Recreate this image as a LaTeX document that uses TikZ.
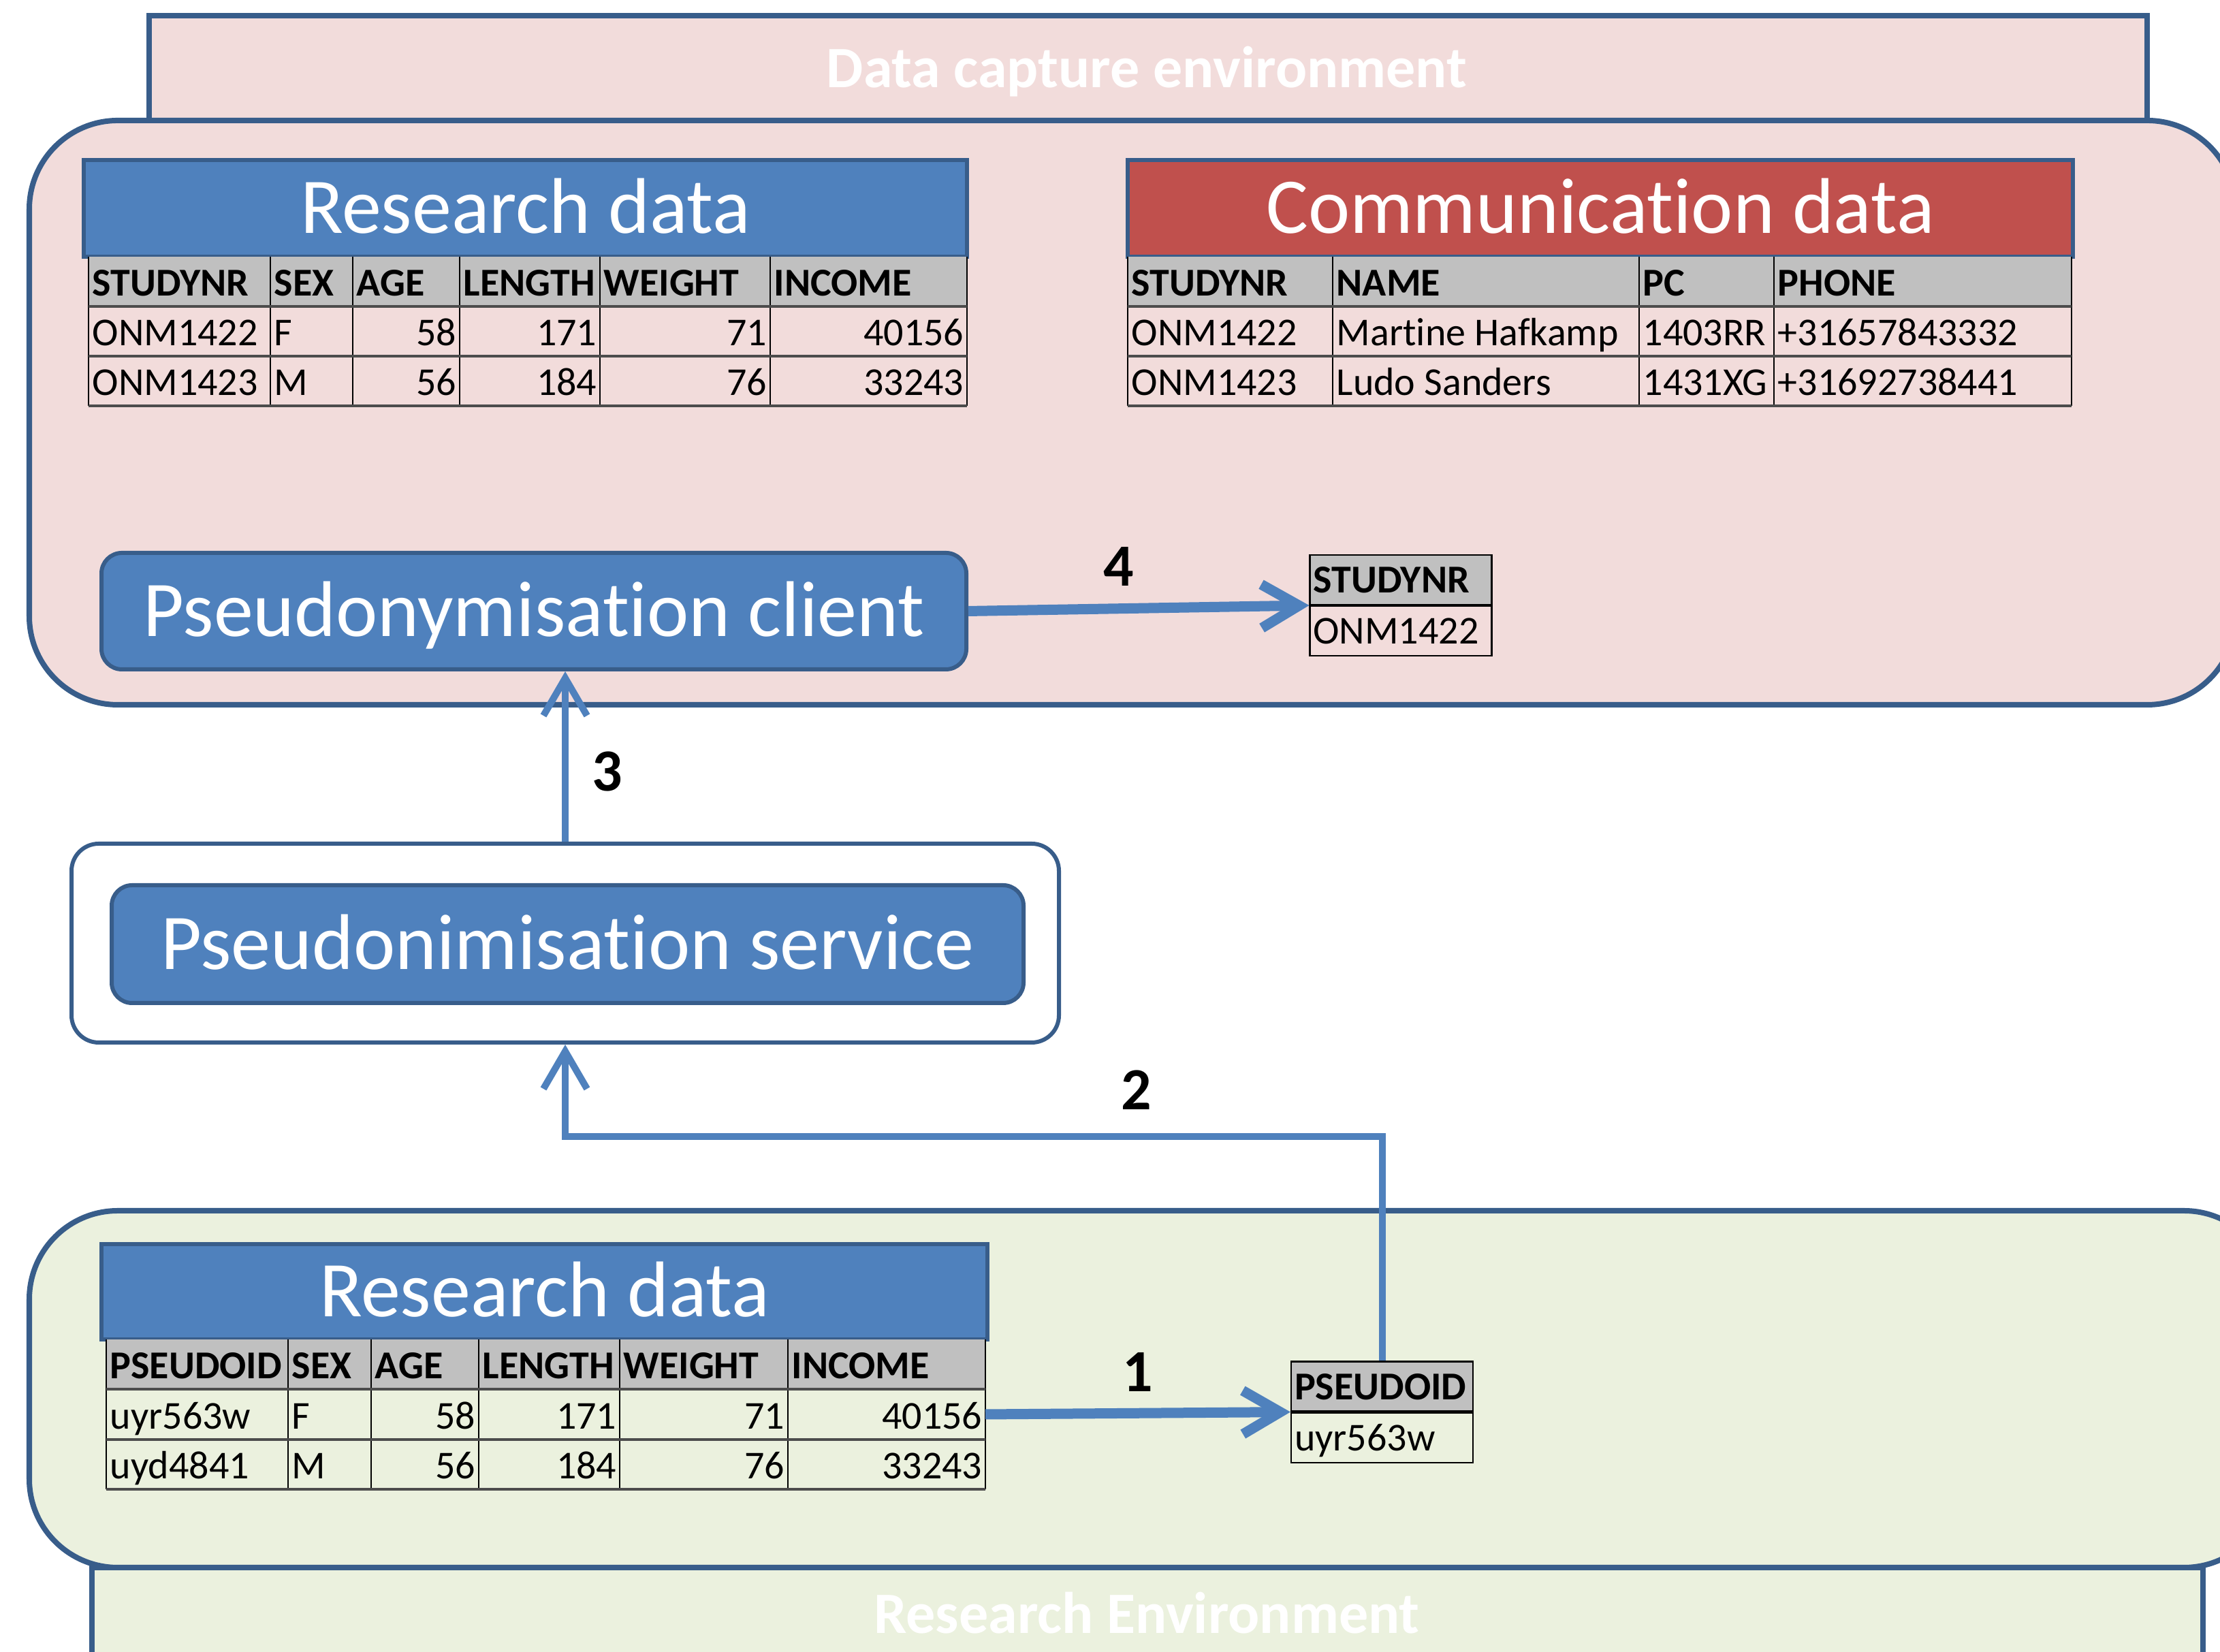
\documentclass[tikz,border=0pt]{standalone}
\usepackage{fontspec}
\setmainfont{Carlito}[RawFeature={-liga;-clig;-calt;-dlig}]
\usetikzlibrary{arrows.meta,positioning}
\definecolor{capturebg}{RGB}{242,220,219}
\definecolor{researchbg}{RGB}{235,241,222}
\definecolor{accblue}{RGB}{79,129,189}
\definecolor{edgeblue}{RGB}{56,93,138}
\definecolor{accred}{RGB}{192,80,77}
\definecolor{headgrey}{RGB}{192,192,192}

\begin{document}
\begin{tikzpicture}[
  envbox/.style={draw=edgeblue,line width=0.08cm,rounded corners=1.3cm},
  envtab/.style={draw=edgeblue,line width=0.08cm},
  envlbl/.style={text=white,font=\bfseries\fontsize{24.5}{28}\selectfont,text height=16pt,text depth=0pt,inner sep=0pt},
  titlebox/.style={draw=edgeblue,line width=0.06cm,text=white,font=\fontsize{33}{38}\selectfont,text height=21pt,text depth=0pt,inner sep=0pt},
  th/.style={anchor=base west,inner sep=0pt,font=\bfseries\fontsize{16.5}{19}\selectfont},
  td/.style={anchor=base west,inner sep=0pt,font=\fontsize{16.5}{19}\selectfont},
  tn/.style={anchor=base east,inner sep=0pt,font=\fontsize{16.5}{19}\selectfont},
  colline/.style={line width=0.6pt},
  rowline/.style={line width=1.4pt,black!70},
  keycell/.style={draw,line width=0.6pt,minimum height=0.73cm,text width=2.57cm,inner xsep=0.05cm,inner ysep=0pt,align=left,text height=11pt,text depth=0pt,font=\fontsize{16.5}{19}\selectfont},
  flow/.style={draw=accblue,line width=0.15cm,-{Straight Barb[length=0.55cm,width=0.64cm]}},
  stepnum/.style={font=\bfseries\fontsize{25}{30}\selectfont,inner sep=0pt}
]
  \useasboundingbox (0,0) rectangle (32.60,24.26);
  \clip (0,0) rectangle (32.60,24.26);

  \draw[envtab,fill=capturebg] (2.19,24.03) rectangle (31.53,22.49);
  \node[envlbl] (capturelbl) at (16.84,23.255) {Data capture environment};
  \draw[envbox,fill=capturebg] (0.43,22.49) rectangle (32.83,13.91);
  \draw[envbox,fill=researchbg] (0.43,6.48) rectangle (33.37,1.24);
  \draw[envtab,fill=researchbg] (1.35,1.24) rectangle (32.35,-0.50);
  \node[envlbl] (researchlbl) at (16.84,0.555) {Research Environment};

  \node[titlebox,fill=accblue,minimum width=12.97cm,minimum height=1.42cm] (rdcap) at (7.715,21.20) {Research data};
  \fill[headgrey] (1.30,20.49) rectangle (14.20,19.76);
  \foreach \x in {1.30,3.97,5.18,6.75,8.81,11.31,14.20}
    \draw[colline] (\x,20.49) -- (\x,18.30);
  \foreach \y in {19.76,19.03,18.30}
    \draw[rowline] (1.30,\y) -- (14.20,\y);
  \foreach \x/\t [count=\i] in {1.30/STUDYNR,3.97/SEX,5.18/AGE,6.75/LENGTH,8.81/WEIGHT,11.31/INCOME}
    \node[th] (rdcaph\i) at (\x+0.05,19.91) {\t};
  \foreach \y/\id/\s/\a/\l/\w/\m [count=\i] in {19.18/ONM1422/F/58/171/71/40156,18.45/ONM1423/M/56/184/76/33243} {
    \node[td] (rdcapid\i) at (1.35,\y) {\id};
    \node[td] (rdcapsex\i) at (4.02,\y) {\s};
    \node[tn] (rdcapage\i) at (6.71,\y) {\a};
    \node[tn] (rdcaplen\i) at (8.77,\y) {\l};
    \node[tn] (rdcapwt\i) at (11.27,\y) {\w};
    \node[tn] (rdcapinc\i) at (14.16,\y) {\m};
  }

  \node[titlebox,fill=accred,minimum width=13.88cm,minimum height=1.42cm] (comm) at (23.50,21.20) {Communication data};
  \fill[headgrey] (16.56,20.49) rectangle (30.42,19.76);
  \foreach \x in {16.56,19.57,24.07,26.05,30.42}
    \draw[colline] (\x,20.49) -- (\x,18.30);
  \foreach \y in {19.76,19.03,18.30}
    \draw[rowline] (16.56,\y) -- (30.42,\y);
  \foreach \x/\t [count=\i] in {16.56/STUDYNR,19.57/NAME,24.07/PC,26.05/PHONE}
    \node[th] (commh\i) at (\x+0.05,19.91) {\t};
  \foreach \y/\id/\n/\p/\ph [count=\i] in {19.18/ONM1422/Martine Hafkamp/1403RR/+31657843332,18.45/ONM1423/Ludo Sanders/1431XG/+31692738441} {
    \node[td] (commid\i) at (16.61,\y) {\id};
    \node[td] (commname\i) at (19.62,\y) {\n};
    \node[td] (commpc\i) at (24.12,\y) {\p};
    \node[td] (commphone\i) at (26.10,\y) {\ph};
  }

  \node[titlebox,fill=accblue,rounded corners=0.3cm,minimum width=12.70cm,minimum height=1.71cm] (client) at (7.84,15.285) {Pseudonymisation client};
  \node[keycell,fill=headgrey,font=\bfseries\fontsize{16.5}{19}\selectfont] (sidh) at (20.57,15.745) {STUDYNR};
  \node[keycell,below=0pt of sidh] (sidv) {ONM1422};

  \node[draw=edgeblue,line width=0.06cm,fill=white,rounded corners=0.4cm,minimum width=14.50cm,minimum height=2.92cm] (svcbox) at (8.30,10.41) {};
  \node[titlebox,fill=accblue,rounded corners=0.3cm,minimum width=13.39cm,minimum height=1.73cm] (svc) at (8.335,10.395) {Pseudonimisation service};

  \node[titlebox,fill=accblue,minimum width=13.01cm,minimum height=1.40cm] (rdres) at (7.995,5.29) {Research data};
  \fill[headgrey] (1.56,4.59) rectangle (14.47,3.86);
  \foreach \x in {1.56,4.23,5.45,7.03,9.10,11.57,14.47}
    \draw[colline] (\x,4.59) -- (\x,2.39);
  \foreach \y in {3.86,3.12,2.39}
    \draw[rowline] (1.56,\y) -- (14.47,\y);
  \foreach \x/\t [count=\i] in {1.56/PSEUDOID,4.23/SEX,5.45/AGE,7.03/LENGTH,9.10/WEIGHT,11.57/INCOME}
    \node[th] (rdresh\i) at (\x+0.05,4.01) {\t};
  \foreach \y/\id/\s/\a/\l/\w/\m [count=\i] in {3.27/uyr563w/F/58/171/71/40156,2.54/uyd4841/M/56/184/76/33243} {
    \node[td] (rdresid\i) at (1.61,\y) {\id};
    \node[td] (rdressex\i) at (4.28,\y) {\s};
    \node[tn] (rdresage\i) at (6.99,\y) {\a};
    \node[tn] (rdreslen\i) at (9.06,\y) {\l};
    \node[tn] (rdreswt\i) at (11.53,\y) {\w};
    \node[tn] (rdresinc\i) at (14.43,\y) {\m};
  }
  \coordinate (rdresout) at (14.47,3.49);

  \node[keycell,fill=headgrey,font=\bfseries\fontsize{16.5}{19}\selectfont] (pidh) at (20.295,3.90) {PSEUDOID};
  \node[keycell,below=0pt of pidh] (pidv) {uyr563w};

  \draw[flow] (rdresout) -- (pidh.south west);
  \draw[flow,line width=0.1cm] (pidh.north) -- ++(0,3.29) -| (svcbox.south);
  \draw[flow,line width=0.1cm] (svcbox.north) -- (svcbox.north |- client.south);
  \draw[flow] (client.east) -- (sidh.south west);

  \node[stepnum] (n1) at (16.71,4.11) {1};
  \node[stepnum] (n2) at (16.69,8.25) {2};
  \node[stepnum] (n3) at (8.92,12.93) {3};
  \node[stepnum] (n4) at (16.43,15.94) {4};
\end{tikzpicture}
\end{document}
